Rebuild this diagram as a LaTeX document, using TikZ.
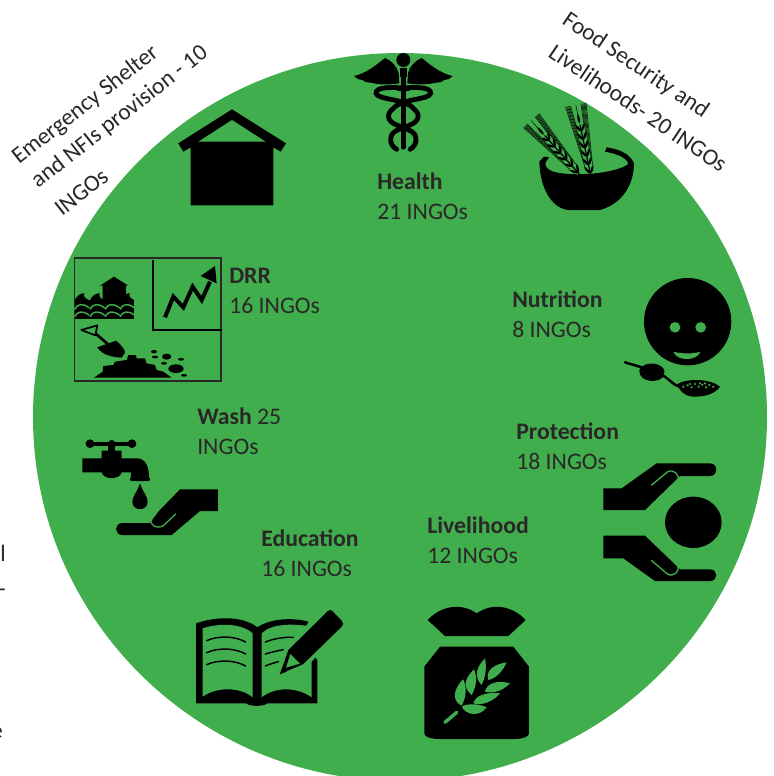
\documentclass[tikz,border=0pt]{standalone}
\usepackage{fontspec}
\setmainfont{Carlito}
\definecolor{disc}{HTML}{40AE4D}
\definecolor{ink}{HTML}{2B2729}
\tikzset{
  lbl/.style={anchor=north west,inner sep=0pt,align=left,text=ink,font=\fontsize{17.8}{22.1}\selectfont},
  side/.style={anchor=base west,inner sep=0pt,text=ink,font=\fontsize{17.6}{20}\selectfont},
  cut/.style={draw=disc,line width=1pt,line cap=round},
  blackline/.style={draw=black,line cap=round}
}
\newcommand{\ear}[1]{% one wheat ear along +x of a scope, length #1
  \draw[black,line width=.9pt] (0,0) -- (#1*0.72,0);
  \foreach \t in {0.02,0.14,0.26,0.38,0.50,0.62}{
    \fill[black,shift={(\t*#1,0)},rotate=30] (0,0) .. controls (6,-5.5) and (18,-6) .. (29,0) .. controls (18,4) and (6,4) .. (0,0);
    \fill[black,shift={(\t*#1,0)},rotate=-30] (0,0) .. controls (6,-4) and (18,-4) .. (29,0) .. controls (18,6) and (6,5.5) .. (0,0);
    \draw[black,line width=.35pt] (\t*#1+24,12) -- (#1,{6+(1-\t)*26});
    \draw[black,line width=.35pt] (\t*#1+24,-12) -- (#1,{-6-(1-\t)*26});
  }
  \fill[black,shift={(#1*0.74,0)}] (0,0) .. controls (6,-5) and (18,-5) .. (30,0) .. controls (18,5) and (6,5) .. (0,0);
  \draw[black,line width=.35pt] (#1*0.74,0) -- (#1,0);
}
\begin{document}
\begin{tikzpicture}[x=0.75pt,y=-0.75pt]
\useasboundingbox (0,0) rectangle (774,776);
\clip (0,0) rectangle (774,776);
\fill[disc] (400,417) ellipse [x radius=367,y radius=364];

% fragments at the left edge
\node[side,anchor=base east] (fa) at (6,561) {l};
\node[side,anchor=base east] (fb) at (6,596) {-};
\node[side,anchor=base east] (fc) at (3,738) {e};

% outer labels
\node[side,rotate=38] (em1) at (19,165) {Emergency Shelter};
\node[side,rotate=38] (em2) at (38,189) {and NFIs provision - 10};
\node[side,rotate=38] (em3) at (62,217) {INGOs};
\node[side,rotate=-34] (fs1) at (561,23) {Food Security and};
\node[side,rotate=-34] (fs2) at (547,56) {Livelihoods- 20 INGOs};

% inner labels
\node[lbl] (health) at (377,173) {\textbf{Health}\\21 INGOs};
\node[lbl] (nutr) at (512,291) {\textbf{Nutrition}\\8 INGOs};
\node[lbl] (prot) at (516,423) {\textbf{Protection}\\18 INGOs};
\node[lbl] (live) at (427,517) {\textbf{Livelihood}\\12 INGOs};
\node[lbl] (edu) at (261,530) {\textbf{Education}\\16 INGOs};
\node[lbl] (wash) at (197,408) {\textbf{Wash} 25\\INGOs};
\node[lbl] (drr) at (229,268) {\textbf{DRR}\\16 INGOs};

% caduceus
\begin{scope}[shift={(340,40)},scale=1/3]
  \fill (190,60) circle (21);
  \fill (180,85) rectangle (200,110);
  \foreach \m/\o in {1/190,-1/190}{
    \begin{scope}[shift={(190,0)},xscale=\m]
      \fill (12,130) -- (14,100) .. controls (18,80) and (35,62) .. (55,54)
        .. controls (78,72) and (110,100) .. (148,108)
        .. controls (138,116) and (132,122) .. (122,120)
        .. controls (115,129) and (100,127) .. (92,129)
        .. controls (70,135) and (40,134) .. (12,130) -- cycle;
      \draw[line width=3.6pt,line cap=round] (-14,146) .. controls (30,140) and (85,140) .. (82,160)
        .. controls (78,180) and (-5,175) .. (-30,205)
        .. controls (-55,225) and (-45,245) .. (-20,255)
        .. controls (0,265) and (32,270) .. (37,290)
        .. controls (42,310) and (30,322) .. (20,328);
    \end{scope}
  }
  \fill (183,110) rectangle (197,325);
  \fill (190,322) circle (7);
\end{scope}

% bowl with wheat
\begin{scope}[shift={(340,40)},scale=1/3]
  \begin{scope}[shift={(752,405)},rotate=102]\ear{215}\end{scope}
  \begin{scope}[shift={(718,402)},rotate=132]\ear{216}\end{scope}
  \fill (598,365) .. controls (600,450) and (640,510) .. (690,510) -- (780,510)
    .. controls (850,490) and (882,430) .. (882,370)
    .. controls (870,342) and (840,328) .. (800,322) -- (795,335)
    .. controls (835,342) and (862,355) .. (865,372)
    .. controls (830,400) and (700,412) .. (640,395)
    .. controls (620,388) and (612,375) .. (618,365) -- (627,352) -- (612,350) -- cycle;
\end{scope}

% shelter
\begin{scope}[shift={(60,100)},scale=1/3]
  \fill (355,130) -- (516,28) -- (678,130) -- (662,155) -- (640,142) -- (640,316) -- (392,316) -- (392,142) -- (370,155) -- cycle;
  \fill[disc] (415,125) -- (516,60) -- (617,125) -- cycle;
\end{scope}

% DRR panel
\begin{scope}[shift={(60,100)},scale=1/3]
  \draw[ink,line width=1pt] (44,474) rectangle (483,843);
  \draw[black,line width=1.5pt] (280,480) -- (280,689) -- (485,689);
  \draw[black,line width=3pt,line join=miter] (315,652) -- (340,590) -- (370,622) -- (398,560) -- (425,600) -- (450,545);
  \fill (465,498) -- (422,528) -- (470,550) -- cycle;
  % flooded house
  \fill (162,530) -- (205,557) -- (198,557) -- (198,605) -- (128,605) -- (128,557) -- (120,557) -- cycle;
  \fill (44,600) -- (222,600) -- (222,657) -- (44,657) -- cycle;
  \foreach \x in {44,90,135,180}{
    \fill (\x,600) .. controls (\x+6,590) and (\x+16,578) .. (\x+30,580) .. controls (\x+24,586) and (\x+30,595) .. (\x+42,600) -- cycle;
    \draw[disc,line width=1.1pt] (\x,628) .. controls (\x+8,612) and (\x+24,608) .. (\x+44,624);
    \draw[disc,line width=1.1pt] (\x,650) .. controls (\x+8,634) and (\x+24,630) .. (\x+44,646);
  }
  % shovel
  \draw[black,line width=1.3pt,line join=round] (64,690) -- (112,676) -- (106,706) -- cycle;
  \draw[black,line width=2pt] (106,700) -- (150,738);
  \fill (112,742) -- (168,722) .. controls (185,735) and (195,750) .. (195,758) -- (185,773) .. controls (160,772) and (125,765) .. (112,742) -- cycle;
  % heap
  \fill (102,833) -- (128,815) -- (130,798) -- (160,795) -- (165,785) -- (200,780) -- (205,765) -- (228,765) -- (230,775) -- (255,775) -- (260,790) -- (285,795) -- (290,810) -- (310,815) -- (335,833) -- cycle;
  \foreach \x/\y/\a/\b in {282/755/9/5,285/771/9/4,320/770/14/9,363/778/9/4,312/790/9/4,348/806/23/13,372/826/9/4}{
    \fill (\x,\y) ellipse [x radius=\a,y radius=\b];
  }
\end{scope}

% nutrition
\begin{scope}[shift={(590,270)},scale=1/3]
  \fill (293,155) circle (131);
  \fill[disc] (255,172) circle (16);
  \fill[disc] (332,172) circle (16);
  \fill[disc] (250,245) .. controls (275,252) and (310,252) .. (332,245) .. controls (325,262) and (305,267) .. (290,267) .. controls (272,267) and (255,260) .. (250,245) -- cycle;
  \draw[black,line width=1.9pt,line cap=round] (105,277) -- (155,292);
  \fill (148,300) .. controls (155,282) and (190,272) .. (215,290) .. controls (232,305) and (225,330) .. (190,333) .. controls (165,333) and (145,320) .. (148,300) -- cycle;
  \draw[black,line width=1.9pt,line cap=round] (222,318) .. controls (240,330) and (250,345) .. (268,350);
  \fill (262,342) .. controls (290,325) and (360,325) .. (390,350) .. controls (375,372) and (345,380) .. (310,380) .. controls (285,378) and (268,365) .. (262,342) -- cycle;
  \foreach \x/\y in {280/350,293/346,305/352,315/342,326/350,337/344,348/352,358/345,370/350,300/342,330/340,345/340}{
    \fill[disc] (\x,\y) circle (3.6);
  }
\end{scope}

% protection
\begin{scope}[shift={(590,270)},scale=1/3]
  \fill (40,655) -- (95,655) -- (200,580) -- (360,580) .. controls (385,580) and (385,618) .. (360,618) -- (270,618) -- (165,720) -- (40,720) -- cycle;
  \draw[cut] (185,645) -- (232,606) .. controls (250,595) and (272,615) .. (262,632);
  \fill (40,797) -- (165,797) -- (270,898) -- (360,898) .. controls (385,898) and (385,933) .. (360,933) -- (195,933) -- (100,865) -- (40,865) -- cycle;
  \draw[cut] (185,872) -- (232,912) .. controls (250,922) and (272,905) .. (262,885);
  \fill (310,757) ellipse [x radius=85,y radius=77];
\end{scope}

% tap and hand
\begin{scope}[shift={(0,430)},scale=1/3]
  \draw[black,line width=3pt] (270,41) -- (396,41);
  \fill (270,41) circle (13);
  \fill (396,41) circle (13);
  \fill (335,41) circle (11);
  \fill (325,41) rectangle (345,70);
  \fill (305,62) -- (365,62) -- (365,85) -- (415,85) .. controls (437,88) and (447,110) .. (447,142) .. controls (452,142) and (452,153) .. (447,153) -- (393,153) .. controls (388,153) and (388,142) .. (393,142) -- (393,127) -- (365,127) .. controls (360,150) and (310,150) .. (305,127) -- (247,127) -- (247,85) -- (305,85) -- cycle;
  \fill (420,160) .. controls (428,185) and (443,200) .. (443,215) .. controls (443,245) and (397,245) .. (397,215) .. controls (397,200) and (412,185) .. (420,160) -- cycle;
  \fill (654,178) -- (654,243) -- (600,243) -- (515,315) -- (367,315) .. controls (342,315) and (342,279) .. (367,279) -- (450,279) -- (475,245) -- (540,178) -- cycle;
  \draw[cut] (527,252) -- (490,287) .. controls (470,298) and (445,285) .. (455,265);
\end{scope}

% book and pencil
\begin{scope}[shift={(180,590)},scale=1/3]
  \fill (48,100) .. controls (110,78) and (190,78) .. (232,112) .. controls (270,85) and (340,82) .. (385,95) -- (360,145) -- (412,210) -- (412,340) -- (262,340) .. controls (250,350) and (210,350) .. (198,340) -- (48,340) -- cycle;
  \fill[disc] (68,115) .. controls (120,98) and (185,100) .. (218,130) -- (218,322) .. controls (180,290) and (110,290) .. (68,320) -- cycle;
  \fill[disc] (245,130) .. controls (275,100) and (340,100) .. (395,110) -- (395,322) .. controls (350,290) and (285,290) .. (245,322) -- cycle;
  \foreach \y in {0,36,72}{
    \draw[blackline,line width=1.1pt] (80,\y+152) .. controls (115,\y+136) and (165,\y+138) .. (197,\y+156);
  }
  \draw[blackline,line width=1.1pt] (256,156) .. controls (280,146) and (315,140) .. (340,142);
  \draw[blackline,line width=1.1pt] (256,192) .. controls (275,186) and (295,182) .. (310,179);
  \draw[blackline,line width=1.1pt] (256,228) .. controls (270,222) and (285,218) .. (295,215);
  \fill[disc] (285,268) -- (315,170) -- (445,45) -- (505,100) -- (375,235) -- cycle;
  \fill (300,252) -- (325,180) -- (445,62) .. controls (450,58) and (455,60) .. (458,64) -- (485,92) .. controls (491,98) and (491,104) .. (486,109) -- (370,222) -- cycle;
  \fill[disc] (318,233) -- (331,192) -- (360,221) -- cycle;
  \fill (300,252) -- (307,232) -- (320,245) -- cycle;
\end{scope}

% grain sack
\begin{scope}[shift={(180,590)},scale=1/3]
  \fill (743,90) .. controls (780,50) and (840,35) .. (890,70) .. controls (940,35) and (1000,50) .. (1037,90) -- (985,138) -- (795,138) -- cycle;
  \fill (780,170) -- (1000,170) -- (1047,230) -- (1047,430) .. controls (1047,440) and (1030,447) .. (1000,447) -- (780,447) .. controls (750,447) and (733,440) .. (733,430) -- (733,230) -- cycle;
  \draw[disc,line width=2.6pt,line cap=round] (795,397) -- (830,367);
  \fill[disc] (850,268) .. controls (825,290) and (810,330) .. (845,347) .. controls (860,320) and (860,290) .. (850,268) -- cycle;
  \fill[disc] (882,238) .. controls (855,265) and (845,290) .. (875,315) .. controls (890,290) and (892,260) .. (882,238) -- cycle;
  \fill[disc] (915,205) .. controls (890,230) and (880,260) .. (905,285) .. controls (918,260) and (920,230) .. (915,205) -- cycle;
  \fill[disc] (980,217) .. controls (945,222) and (915,240) .. (925,270) .. controls (950,265) and (970,240) .. (980,217) -- cycle;
  \fill[disc] (990,280) .. controls (955,270) and (920,278) .. (915,305) .. controls (945,312) and (970,300) .. (990,280) -- cycle;
  \fill[disc] (960,310) .. controls (925,305) and (885,315) .. (880,340) .. controls (905,348) and (940,335) .. (960,310) -- cycle;
  \fill[disc] (920,352) .. controls (895,340) and (860,340) .. (845,350) .. controls (860,378) and (900,380) .. (920,352) -- cycle;
\end{scope}
\end{tikzpicture}
\end{document}
